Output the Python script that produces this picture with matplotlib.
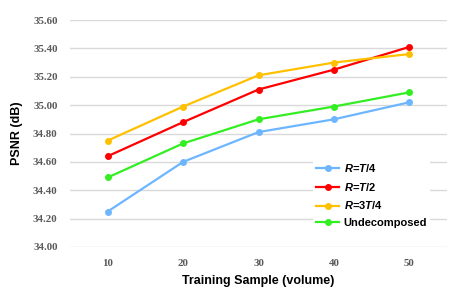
import matplotlib.pyplot as plt
import numpy as np

plt.rcParams['mathtext.fontset'] = 'custom'
plt.rcParams['mathtext.it'] = 'Liberation Sans:italic:bold'
plt.rcParams['mathtext.rm'] = 'Liberation Sans:bold'

samples = [10, 20, 30, 40, 50]
r_t4 = [34.25, 34.60, 34.81, 34.90, 35.02]
r_t2 = [34.64, 34.88, 35.11, 35.25, 35.41]
r_3t4 = [34.75, 34.99, 35.21, 35.30, 35.36]
undecomposed = [34.49, 34.73, 34.90, 34.99, 35.09]
yticks = [34.00, 34.20, 34.40, 34.60, 34.80, 35.00, 35.20, 35.40, 35.60]

series = [
    (r_t4, '#6DB6FF', r'$\mathit{R}$=$\mathit{T}$/4'),
    (r_t2, '#FF0000', r'$\mathit{R}$=$\mathit{T}$/2'),
    (r_3t4, '#FFC000', r'$\mathit{R}$=3$\mathit{T}$/4'),
    (undecomposed, '#33EE22', 'Undecomposed'),
]

fig = plt.figure(figsize=(4.71, 2.95), dpi=100)
ax = fig.add_axes([70/471, 1-247/295, 377/471, 227/295])

for vals, col, lab in series:
    ax.plot(samples, vals, color=col, lw=1.6, marker='o', ms=4, label=lab)

ax.set_xlim(5, 55)
ax.set_ylim(34.0, 35.6)
ax.set_xticks(samples)
ax.set_yticks(yticks)
ax.set_yticklabels([f"{v:.2f}" for v in yticks])
ax.grid(axis='y', color='#D9D9D9', lw=1)
ax.set_axisbelow(True)
for s in ax.spines.values():
    s.set_visible(False)
ax.tick_params(length=0, labelsize=7.8, labelcolor='#595959', pad=9)
for t in ax.get_xticklabels() + ax.get_yticklabels():
    t.set_family('Liberation Serif'); t.set_weight('bold')

ax.set_xlabel('Training Sample (volume)', fontsize=9, fontweight='bold',
              family='Liberation Sans', labelpad=5)
ax.set_ylabel('PSNR (dB)', fontsize=9, fontweight='bold',
              family='Liberation Sans', labelpad=7)

leg = ax.legend(loc='upper left', bbox_to_anchor=(0.63, 0.415), frameon=True,
                prop={'family': 'Liberation Sans', 'weight': 'bold', 'size': 8},
                handlelength=2.0, handletextpad=0.45, labelspacing=0.62,
                borderpad=0.3, framealpha=1)
leg.get_frame().set_edgecolor('none')
leg.get_frame().set_facecolor('white')

fig.savefig('out.png', dpi=100)
